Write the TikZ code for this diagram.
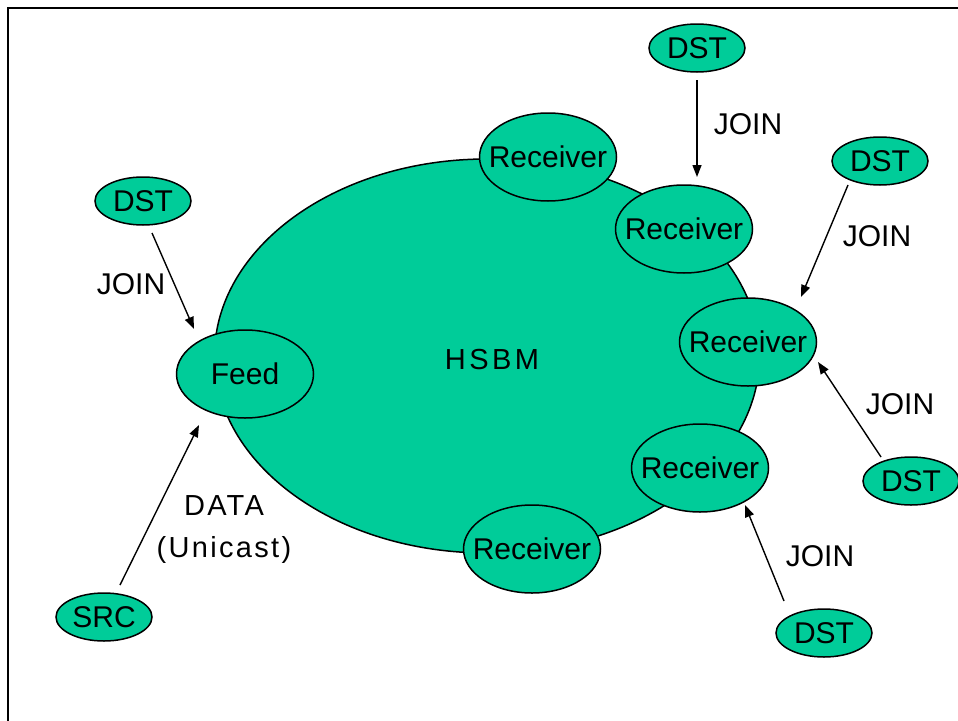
\documentclass[tikz,border=0pt]{standalone}
\usepackage{fontspec}
\setmainfont{Liberation Sans}
\usetikzlibrary{arrows.meta,shapes.geometric}
\definecolor{nodegreen}{RGB}{0,204,153}
\begin{document}
\begin{tikzpicture}[x=1pt,y=-1pt,
  ell/.style={ellipse, draw, fill=nodegreen, line width=1.5pt, inner sep=0pt,
    label={[font=\fontsize{30}{32}\selectfont, inner sep=0pt]center:#1}},
  rcv/.style={ell=#1, minimum width=137pt, minimum height=88pt},
  dst/.style={ell=#1, minimum width=96pt, minimum height=48pt},
  arr/.style={-{Triangle[length=12pt,width=9pt]}, line width=1.4pt},
  lbl/.style={font=\fontsize{30}{32}\selectfont, inner sep=0pt},
  spaced/.style={font=\fontsize{29}{42}\selectfont\addfontfeature{LetterSpace=8}, inner sep=0pt, align=center}
]
\useasboundingbox (0,0) rectangle (958,720);
\draw[line width=1.5pt] (8,8) rectangle (975,735);

% big cloud
\node[ellipse, draw, fill=nodegreen, line width=1.5pt, minimum width=545pt, minimum height=394pt, inner sep=0pt] (hsbm) at (487,356) {};
\node[font=\fontsize{29}{32}\selectfont\addfontfeature{LetterSpace=12}, inner sep=0pt] (hsbmlbl) at (492,360) {HSBM};

% receivers and feed
\node[rcv=Receiver] (r1) at (548,157) {};
\node[rcv=Receiver] (r2) at (684,229) {};
\node[rcv=Receiver] (r3) at (748,342) {};
\node[rcv=Receiver] (r4) at (700,468) {};
\node[rcv=Receiver] (r5) at (532,549) {};
\node[rcv=Feed] (feed) at (245,374) {};

% DST / SRC
\node[dst=DST] (d1) at (697,48) {};
\node[dst=DST] (d2) at (880,161) {};
\node[dst=DST] (d3) at (143,201) {};
\node[dst=DST] (d4) at (911,481) {};
\node[dst=DST] (d5) at (824,633) {};
\node[dst=SRC] (src) at (104,617) {};

% connector end points
\coordinate (a1s) at (697,80);  \coordinate (a1e) at (697,177);
\coordinate (a2s) at (848,185); \coordinate (a2e) at (801,297);
\coordinate (a3s) at (152,233); \coordinate (a3e) at (194,329);
\coordinate (a4s) at (881,457); \coordinate (a4e) at (818,362);
\coordinate (a5s) at (784,601); \coordinate (a5e) at (745,505);
\coordinate (a6s) at (120,585); \coordinate (a6e) at (199,425);

\draw[arr] (a1s) -- (a1e);
\draw[arr] (a2s) -- (a2e);
\draw[arr] (a3s) -- (a3e);
\draw[arr] (a4s) -- (a4e);
\draw[arr] (a5s) -- (a5e);
\draw[arr] (a6s) -- (a6e);

% labels
\node[lbl] (j1) at (748,124) {JOIN};
\node[lbl] (j2) at (877,236) {JOIN};
\node[lbl] (j3) at (131,284) {JOIN};
\node[lbl] (j4) at (900,404) {JOIN};
\node[lbl] (j5) at (820,556) {JOIN};
\node[spaced] (data) at (224,530) {DATA\\(Unicast)};
\end{tikzpicture}
\end{document}
